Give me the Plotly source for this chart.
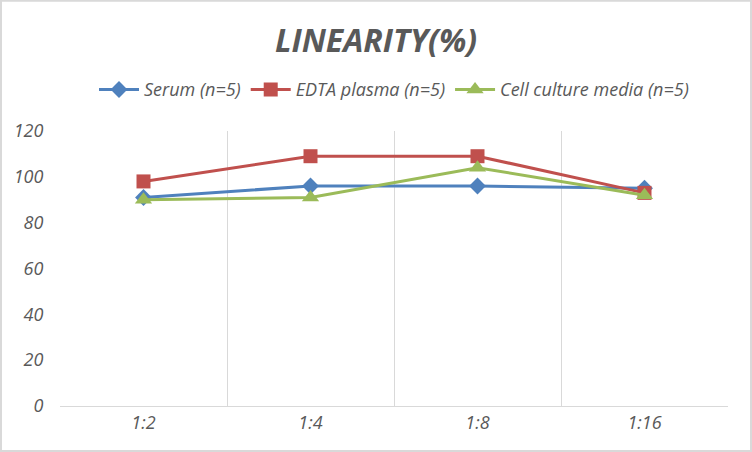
import plotly.graph_objects as go

dilutions = ['1:2', '1:4', '1:8', '1:16']
serum = [91, 96, 96, 95]
edta_plasma = [98, 109, 109, 93]
cell_culture = [90, 91, 104, 92]

series = [
    ('Serum (n=5)', serum, '#4F81BD', 'diamond', 13),
    ('EDTA plasma (n=5)', edta_plasma, '#C0504D', 'square', 14),
    ('Cell culture media (n=5)', cell_culture, '#9BBB59', 'triangle-up', 15),
]

fig = go.Figure()
for name, vals, color, symbol, size in series:
    fig.add_trace(go.Scatter(
        x=dilutions, y=vals, name=name, mode='lines+markers',
        line=dict(color=color, width=3),
        marker=dict(symbol=symbol, size=size, color=color),
    ))

grey = '#595959'
fig.update_layout(
    width=752, height=452,
    margin=dict(l=60, r=24, t=131, b=46),
    paper_bgcolor='white', plot_bgcolor='white',
    font=dict(family='Open Sans', size=16, color=grey, style='italic'),
    title=dict(text='<b>LINEARITY(%)</b>', x=0.5, xanchor='center',
               y=0.91, yanchor='middle',
               font=dict(size=32, color=grey, family='Open Sans', style='italic')),
    legend=dict(orientation='h', x=0.5, xanchor='center', y=1.15, yanchor='middle',
                font=dict(size=18, color=grey), itemwidth=40),
    showlegend=True,
)
fig.update_xaxes(
    type='category', range=[-0.5, 3.5], tickson='boundaries',
    showgrid=True, gridcolor='#d9d9d9', gridwidth=1,
    showline=True, linecolor='#d9d9d9', linewidth=1,
    ticks='outside', ticklen=10, tickcolor='rgba(0,0,0,0)',
    tickfont=dict(size=18, color=grey), zeroline=False,
)
fig.update_yaxes(
    range=[0, 120], dtick=20, showgrid=False, zeroline=False,
    showline=False, ticks='outside', ticklen=12, tickcolor='rgba(0,0,0,0)',
    tickfont=dict(size=18, color=grey),
)
# thin frame around the whole chart
fig.add_shape(type='rect', xref='paper', yref='paper',
              x0=-59 / 668, x1=1 + 23 / 668, y0=-45 / 274.5, y1=1 + 130 / 274.5,
              line=dict(color='#d9d9d9', width=2), fillcolor='rgba(0,0,0,0)')

fig.write_html('out.html', config={'displayModeBar': False},
               post_script="document.body.style.margin='0';")
